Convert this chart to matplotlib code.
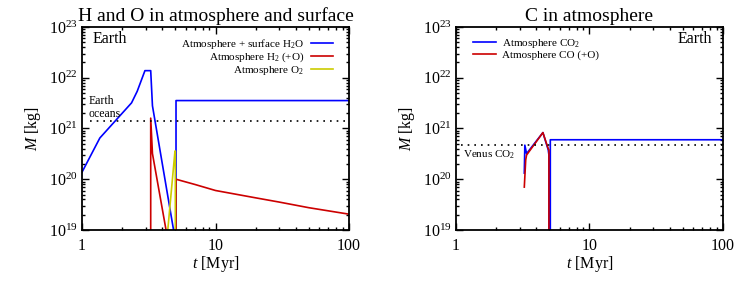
import matplotlib
matplotlib.use("Agg")
import matplotlib.pyplot as plt
from matplotlib.ticker import LogLocator, LogFormatterMathtext, NullFormatter

plt.rcParams['font.family'] = ['Liberation Serif', 'DejaVu Serif']
plt.rcParams['mathtext.fontset'] = 'custom'
plt.rcParams['mathtext.rm'] = 'Liberation Serif'
plt.rcParams['mathtext.it'] = 'Liberation Serif:italic'

# --- left panel: H and O ---
t_h2o = [1, 1.36, 2.35, 2.59, 2.96, 3.27, 3.37, 4.85, 4.86, 5.06, 5.06, 100]
m_h2o = [1.38e20, 6.5e20, 3.2e21, 5.4e21, 1.38e22, 1.38e22, 2.8e21, 1e19,
         1e15, 1e15, 3.55e21, 3.55e21]

t_h2 = [3.27, 3.27, 3.37, 4.26, 4.27, 5.06, 5.06, 7, 10, 20, 30, 50, 100]
m_h2 = [1e15, 1.6e21, 3.2e20, 1e19, 1e15, 1e15, 1.0e20, 7.9e19, 6.0e19,
        4.3e19, 3.55e19, 2.75e19, 2.05e19]

t_o2 = [4.39, 4.97, 5.0, 5.0]
m_o2 = [1e19, 3.6e20, 3.6e20, 1e15]

earth_oceans = 1.4e21

# --- right panel: C ---
t_co2 = [3.25, 3.28, 3.38, 4.48, 4.91, 4.97, 4.98, 5.09, 5.09, 100]
m_co2 = [1.32e20, 4.7e20, 3.2e20, 8.3e20, 3.8e20, 3.0e20, 1e15, 1e15,
         6.0e20, 6.0e20]

t_co = [3.25, 3.33, 3.38, 4.48, 4.91, 4.97, 4.97]
m_co = [7e19, 2.4e20, 3.0e20, 8.3e20, 4.0e20, 3.8e20, 1e15]

venus_co2 = 4.8e20

blue = '#0000ff'
red = '#cc0000'
yellow = '#cccc00'


def style_axes(ax):
    ax.set_xscale('log')
    ax.set_yscale('log')
    ax.set_xlim(1, 100)
    ax.set_ylim(1e19, 1e23)
    ax.set_xticks([1, 10, 100])
    ax.set_xticklabels(['1', '10', '100'])
    ax.xaxis.set_minor_locator(LogLocator(base=10, subs=range(2, 10)))
    ax.xaxis.set_minor_formatter(NullFormatter())
    ax.yaxis.set_major_locator(LogLocator(base=10, numticks=10))
    ax.yaxis.set_major_formatter(LogFormatterMathtext())
    ax.yaxis.set_minor_locator(LogLocator(base=10, subs=range(2, 10), numticks=20))
    ax.yaxis.set_minor_formatter(NullFormatter())
    ax.tick_params(which='both', direction='in', top=True, right=True,
                   labelsize=11.5, width=1.0)
    ax.tick_params(which='major', length=5)
    ax.tick_params(axis='x', which='major', pad=6)
    ax.tick_params(axis='y', which='major', pad=3)
    ax.tick_params(which='minor', length=2.5)
    for s in ax.spines.values():
        s.set_linewidth(1.3)
    ax.set_xlabel('$t$ [Myr]', fontsize=11.5, labelpad=0)
    ax.set_ylabel('$M$ [kg]', fontsize=11.5, labelpad=4)


fig = plt.figure(figsize=(7.47, 2.83), dpi=100)
ax1 = fig.add_axes([0.1098, 0.1873, 0.3574, 0.7173])
ax2 = fig.add_axes([0.6104, 0.1873, 0.3574, 0.7173])

# left
ax1.plot(t_h2o, m_h2o, color=blue, lw=1.2, label='Atmosphere + surface H$_2$O')
ax1.plot(t_h2, m_h2, color=red, lw=1.2, label='Atmosphere H$_2$ (+O)')
ax1.plot(t_o2, m_o2, color=yellow, lw=1.2, label='Atmosphere O$_2$')
ax1.hlines(earth_oceans, 1.15, 100, colors='k', linestyles=(0, (1, 3)), lw=1.2)
ax1.text(1.12, 1.5e21, 'Earth\noceans', fontsize=8.5, ha='left', va='bottom',
         linespacing=1.05)
ax1.text(0.04, 0.98, 'Earth', transform=ax1.transAxes, fontsize=11.5,
         ha='left', va='top')
ax1.legend(loc='upper right', bbox_to_anchor=(0.965, 0.985), frameon=False,
           markerfirst=False, fontsize=8, handlelength=2.0, handletextpad=0.6,
           labelspacing=0.0, borderaxespad=0.2)
for txt in ax1.get_legend().get_texts():
    txt.set_ha('right')
ax1.get_legend()._legend_box.align = 'right'
style_axes(ax1)
ax1.set_title('H and O in atmosphere and surface', fontsize=14, pad=4)

# right
ax2.plot(t_co2, m_co2, color=blue, lw=1.2, label='Atmosphere CO$_2$')
ax2.plot(t_co, m_co, color=red, lw=1.2, label='Atmosphere CO (+O)')
ax2.hlines(venus_co2, 1.1, 100, colors='k', linestyles=(0, (1, 3)), lw=1.2)
ax2.text(1.13, 4.1e20, 'Venus CO$_2$', fontsize=8, ha='left', va='top')
ax2.text(0.96, 0.98, 'Earth', transform=ax2.transAxes, fontsize=11.5,
         ha='right', va='top')
ax2.legend(loc='upper left', bbox_to_anchor=(0.04, 0.985), frameon=False,
           fontsize=8, handlelength=2.0, handletextpad=0.6,
           labelspacing=0.0, borderaxespad=0.2)
style_axes(ax2)
ax2.set_title('C in atmosphere', fontsize=14, pad=4)

fig.savefig('out.png', dpi=100)
